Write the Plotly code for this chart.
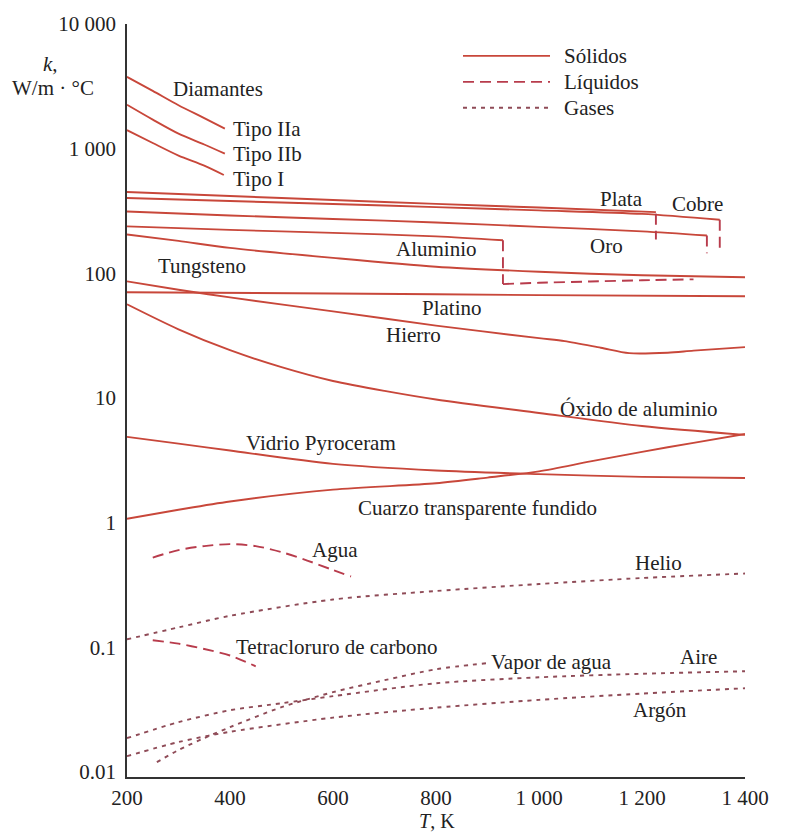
import plotly.graph_objects as go

# ---------------- data (T in K, k in W/m·°C) ----------------
T_dIIa = [200, 250, 300, 350, 390]
k_dIIa = [3770, 2910, 2230, 1760, 1450]
T_dIIb = [200, 250, 300, 350, 390]
k_dIIb = [2250, 1710, 1320, 1080, 912]
T_dI = [200, 250, 300, 350, 388]
k_dI = [1410, 1110, 880, 731, 615]

T_plata = [200, 400, 600, 800, 1000, 1227]
k_plata = [449, 417, 387, 361, 337, 310]
T_cobre = [200, 400, 600, 800, 1000, 1200, 1351]
k_cobre = [402, 380, 360, 340, 320, 300, 269]
T_oro = [200, 400, 600, 800, 1000, 1200, 1326]
k_oro = [313, 291, 273, 256, 236, 217, 201]
T_alum = [200, 400, 600, 800, 930]
k_alum = [238, 223, 211, 198, 184]
T_tung = [200, 300, 400, 600, 800, 1000, 1200, 1400]
k_tung = [205, 182, 160, 133, 113, 103, 96.4, 93]
T_plat = [200, 600, 1000, 1400]
k_plat = [70.5, 68.9, 66.9, 65.5]
T_hierro = [200, 300, 400, 600, 800, 1000, 1050, 1120, 1175, 1250, 1300, 1400]
k_hierro = [86.3, 73.9, 64.1, 49.5, 38.1, 30.2, 28.6, 25.3, 22.9, 23.1, 24.0, 25.6]
T_oxido = [200, 300, 400, 500, 600, 700, 800, 1000, 1200, 1400]
k_oxido = [56.5, 35.6, 24.2, 17.7, 13.7, 11.4, 9.73, 7.59, 5.97, 5.06]
T_pyro = [200, 300, 400, 600, 800, 1000, 1200, 1400]
k_pyro = [4.88, 4.31, 3.79, 2.96, 2.62, 2.45, 2.33, 2.28]
T_cuarzo = [200, 300, 400, 600, 800, 900, 1000, 1100, 1200, 1300, 1400]
k_cuarzo = [1.076, 1.27, 1.48, 1.84, 2.07, 2.30, 2.58, 3.10, 3.70, 4.37, 5.15]

# melting drops (solid -> liquid)
T_drop_plata = [1227, 1227]
k_drop_plata = [300, 187]
T_drop_cobre = [1351, 1351]
k_drop_cobre = [269, 158]
T_drop_oro = [1326, 1326]
k_drop_oro = [201, 145]
T_drop_alum = [930, 930]
k_drop_alum = [184, 82]

# liquids
T_alum_liq = [930, 1000, 1100, 1200, 1300]
k_alum_liq = [82, 84, 86, 88, 89.5]
T_agua = [250, 300, 350, 400, 450, 500, 550, 600, 635]
k_agua = [0.525, 0.603, 0.649, 0.673, 0.649, 0.581, 0.497, 0.417, 0.370]
T_ccl4 = [250, 300, 350, 400, 450]
k_ccl4 = [0.114, 0.107, 0.097, 0.086, 0.0705]

# gases
T_helio = [200, 300, 400, 600, 800, 1000, 1200, 1400]
k_helio = [0.116, 0.1445, 0.179, 0.242, 0.283, 0.322, 0.36, 0.391]
T_aire = [200, 300, 400, 500, 600, 800, 1000, 1200, 1400]
k_aire = [0.0187, 0.0251, 0.0313, 0.0356, 0.0406, 0.0515, 0.0575, 0.0614, 0.0643]
T_vapor = [258, 300, 350, 400, 500, 600, 700, 800, 897]
k_vapor = [0.012, 0.015, 0.0187, 0.0229, 0.0331, 0.0437, 0.0545, 0.0667, 0.0745]
T_argon = [200, 300, 400, 600, 800, 1000, 1200, 1400]
k_argon = [0.0134, 0.0174, 0.021, 0.0273, 0.0328, 0.0379, 0.0426, 0.047]

x_tickvals = [200, 400, 600, 800, 1000, 1200, 1400]
x_ticktext = ["200", "400", "600", "800", "1 000", "1 200", "1 400"]
y_tickvals = [0.01, 0.1, 1, 10, 100, 1000, 10000]
y_ticktext = ["0.01", "0.1", "1", "10", "100", "1 000", "10 000"]

# ---------------- styles ----------------
FONT = "Liberation Serif"
FS = 21
C_SOL = "#c8473a"
C_LIQ = "#b83c4c"
C_GAS = "#8f4b57"
DASH_LIQ = "11px,6px"
DASH_GAS = "4px,5px"
W = 1.9

fig = go.Figure()


def add(T, k, kind, spline=True):
    if kind == "s":
        line = dict(color=C_SOL, width=W)
    elif kind == "l":
        line = dict(color=C_LIQ, width=W, dash=DASH_LIQ)
    else:
        line = dict(color=C_GAS, width=W, dash=DASH_GAS)
    if spline:
        line["shape"] = "spline"
        line["smoothing"] = 0.8
    fig.add_trace(go.Scatter(x=T, y=k, mode="lines", line=line,
                             showlegend=False, hoverinfo="skip"))


for T, k in [(T_dIIa, k_dIIa), (T_dIIb, k_dIIb), (T_dI, k_dI),
             (T_plata, k_plata), (T_cobre, k_cobre), (T_oro, k_oro),
             (T_alum, k_alum), (T_tung, k_tung), (T_plat, k_plat),
             (T_hierro, k_hierro), (T_oxido, k_oxido), (T_pyro, k_pyro),
             (T_cuarzo, k_cuarzo)]:
    add(T, k, "s")

for T, k in [(T_drop_plata, k_drop_plata), (T_drop_cobre, k_drop_cobre),
             (T_drop_oro, k_drop_oro), (T_drop_alum, k_drop_alum)]:
    add(T, k, "l", spline=False)

for T, k in [(T_alum_liq, k_alum_liq), (T_agua, k_agua), (T_ccl4, k_ccl4)]:
    add(T, k, "l")

for T, k in [(T_helio, k_helio), (T_aire, k_aire), (T_vapor, k_vapor),
             (T_argon, k_argon)]:
    add(T, k, "g")

# ---------------- layout ----------------
L, R, TOP, BOT = 127, 745, 22, 777


def P(px, py):
    return (px - L) / (R - L), (BOT - py) / (BOT - TOP)


annotations = []


def label(text, px, py, anchor="center", size=FS):
    x, y = P(px, py)
    annotations.append(dict(text=text, x=x, y=y, xref="paper", yref="paper",
                            xanchor=anchor, yanchor="middle", showarrow=False,
                            font=dict(family=FONT, size=size, color="#222")))


label("<i>k</i>,", 50, 62)
label("W/m · °C", 53, 86)
label("Diamantes", 218, 87)
label("Tipo IIa", 231, 127, "left")
label("Tipo IIb", 231, 152, "left")
label("Tipo I", 231, 177, "left")
label("Tungsteno", 156, 265, "left")
label("Plata", 621, 197)
label("Cobre", 697, 202)
label("Oro", 606, 245)
label("Aluminio", 436, 248)
label("Platino", 452, 307)
label("Hierro", 413, 334)
label("Óxido de aluminio", 638, 408)
label("Vidrio Pyroceram", 321, 442)
label("Cuarzo transparente fundido", 477, 507)
label("Agua", 335, 549)
label("Helio", 658, 562)
label("Tetracloruro de carbono", 336, 647)
label("Vapor de agua", 551, 662)
label("Aire", 698, 657)
label("Argón", 660, 710)
label("Sólidos", 562, 54, "left")
label("Líquidos", 562, 80, "left")
label("Gases", 562, 106, "left")
label("<i>T</i>, K", 437, 821, size=20)

shapes = []
for py, col, dash in [(54, C_SOL, "solid"), (80, C_LIQ, DASH_LIQ), (106, C_GAS, DASH_GAS)]:
    x0, y0 = P(463, py)
    x1, _ = P(550, py)
    shapes.append(dict(type="line", xref="paper", yref="paper", x0=x0, x1=x1,
                       y0=y0, y1=y0, line=dict(color=col, width=W, dash=dash)))

axis_common = dict(showgrid=False, zeroline=False, showline=True,
                   linecolor="#333", linewidth=1.5, ticks="outside",
                   tickcolor="rgba(0,0,0,0)",
                   tickfont=dict(family=FONT, size=FS, color="#222"))

fig.update_layout(
    width=791, height=834,
    margin=dict(l=L, r=791 - R, t=TOP, b=834 - BOT),
    paper_bgcolor="white", plot_bgcolor="white",
    showlegend=False,
    xaxis=dict(range=[200, 1400], tickvals=x_tickvals, ticktext=x_ticktext,
               ticklen=1, **axis_common),
    yaxis=dict(type="log", range=[-2.04, 4], tickvals=y_tickvals,
               ticktext=y_ticktext, ticklen=5, **axis_common),
    annotations=annotations,
    shapes=shapes,
)

fig.write_html("out.html",
               config={"displayModeBar": False},
               post_script="document.body.style.margin='0';"
                           "document.body.style.overflow='hidden';")
